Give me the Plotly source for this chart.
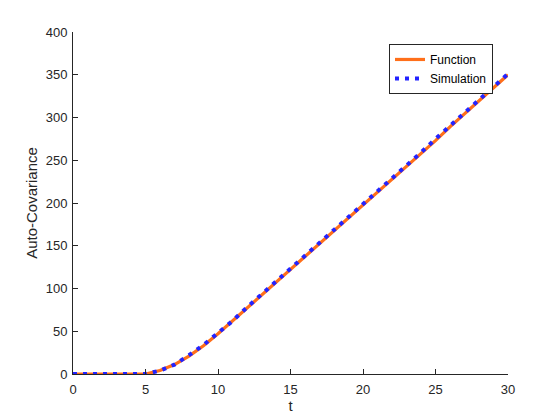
import plotly.graph_objects as go

t = list(range(0, 31))
func_vals = [0, 0, 0, 0, 0, 0, 4, 11, 21, 33, 47, 62, 77, 92, 107, 122, 137, 152,
             167, 182, 197, 212, 227, 243, 258, 273, 289, 304, 319, 335, 350]
sim_vals = [0, 0, 0, 0, 0, 0, 4, 11, 22, 34, 48, 62, 78, 93, 108, 123, 138, 154,
            169, 184, 199, 214, 229, 244, 259, 275, 290, 305, 320, 336, 351]
x_ticks = [0, 5, 10, 15, 20, 25, 30]
y_ticks = [0, 50, 100, 150, 200, 250, 300, 350, 400]

fig = go.Figure()
fig.add_trace(go.Scatter(x=t, y=func_vals, mode="lines", name="Function",
                         line=dict(color="#FF6F1A", width=3.2)))
fig.add_trace(go.Scatter(x=t, y=sim_vals, mode="lines", name="Simulation",
                         line=dict(color="#2323FF", width=4, dash="4px,6px")))

fam = "Liberation Sans, Arial, sans-serif"
axis_font = dict(family=fam, size=13, color="#262626")
fig.update_layout(
    width=560, height=420,
    margin=dict(l=65, r=60, t=24, b=54),
    paper_bgcolor="white", plot_bgcolor="white",
    font=dict(family=fam, color="#262626"),
    showlegend=True,
    legend=dict(x=0.9655, y=0.965, xanchor="right", yanchor="top",
                bgcolor="white", bordercolor="#262626", borderwidth=1,
                font=dict(family=fam, size=12, color="black"),
                tracegroupgap=0, itemwidth=30),
    xaxis=dict(range=[0, 30], tickvals=x_ticks, ticks="inside", ticklen=5,
               showline=True, linecolor="#262626", linewidth=1, showgrid=False,
               zeroline=False, tickfont=axis_font, tickcolor="#262626",
               ticklabelstandoff=3,
               title=dict(text="t", font=dict(family=fam, size=15, color="#262626"), standoff=4)),
    yaxis=dict(range=[0, 400], tickvals=y_ticks, ticks="inside", ticklen=5,
               showline=True, linecolor="#262626", linewidth=1, showgrid=False,
               zeroline=False, tickfont=axis_font, tickcolor="#262626",
               ticklabelstandoff=2,
               title=dict(text="Auto-Covariance", font=dict(family=fam, size=15, color="#262626"), standoff=4)),
)
fig.write_html("out.html")
